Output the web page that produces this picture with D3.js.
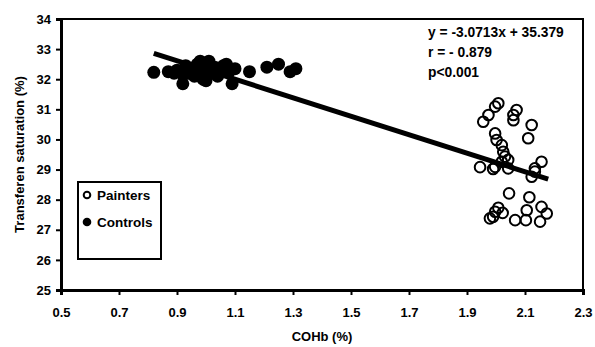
<!DOCTYPE html>
<meta charset="utf-8">
<style>
  body { margin: 0; background: #fff; }
  text { font-family: "Liberation Sans", Arial, sans-serif; font-weight: bold; fill: #000; }
</style>
<body>
<script src="https://d3js.org/d3.v7.min.js"></script>
<script>

// data: [COHb %, transferrin saturation %]
var controls = [
  [0.82, 32.23], [0.87, 32.25], [0.89, 32.2], [0.90, 32.3], [0.92, 31.85],
  [0.92, 32.15], [0.93, 32.45], [0.94, 32.2], [0.95, 32.35], [0.96, 32.1],
  [0.97, 32.5], [0.98, 32.6], [0.98, 32.25], [0.99, 32.0], [1.00, 32.35],
  [1.00, 31.95], [1.01, 32.6], [1.02, 32.2], [1.03, 32.4], [1.04, 32.1],
  [1.05, 32.3], [1.06, 32.45], [1.07, 32.5], [1.08, 32.25], [1.09, 31.85],
  [1.10, 32.35], [1.15, 32.25], [1.21, 32.4], [1.25, 32.5], [1.29, 32.25],
  [1.31, 32.35]
];
var painters = [
  [1.956, 30.59], [1.974, 30.81], [1.997, 31.09], [2.008, 31.2], [2.06, 30.81],
  [2.071, 30.98], [2.06, 30.64], [2.123, 30.48], [2.111, 30.04], [1.997, 30.2],
  [2.002, 29.98], [2.02, 29.81], [2.025, 29.59], [2.031, 29.43], [2.02, 29.26],
  [2.042, 29.32], [2.157, 29.26], [2.134, 29.04], [1.945, 29.08], [1.997, 29.09],
  [1.99, 29.02], [2.042, 29.04], [2.123, 28.76], [2.134, 28.93], [2.045, 28.21],
  [2.115, 28.08], [2.008, 27.73], [1.997, 27.6], [2.023, 27.56], [1.979, 27.38],
  [1.99, 27.43], [2.066, 27.32], [2.103, 27.32], [2.106, 27.65], [2.157, 27.76],
  [2.175, 27.54], [2.152, 27.27]
];
var slope = -3.0713, intercept = 35.379;
var fitRange = [0.82, 2.18];
var xTicks = [0.5, 0.7, 0.9, 1.1, 1.3, 1.5, 1.7, 1.9, 2.1, 2.3];
var yTicks = [25, 26, 27, 28, 29, 30, 31, 32, 33, 34];
var statLines = ["y = -3.0713x + 35.379", "r = - 0.879", "p<0.001"];

var W = 595, H = 347;
var svg = d3.select("body").append("svg").attr("width", W).attr("height", H);

var x = d3.scaleLinear().domain([0.5, 2.3]).range([61, 583]);
var y = d3.scaleLinear().domain([25, 34]).range([290, 19]);

// plot frame
svg.append("rect")
  .attr("x", x(0.5)).attr("y", y(34))
  .attr("width", x(2.3) - x(0.5)).attr("height", y(25) - y(34))
  .attr("fill", "none").attr("stroke", "#000").attr("stroke-width", 2);

// axes
var xAxis = svg.append("g")
  .attr("transform", "translate(0," + y(25) + ")")
  .call(d3.axisBottom(x).tickValues(xTicks).tickSize(5).tickPadding(13)
    .tickFormat(d3.format(".1f")));
var yAxis = svg.append("g")
  .attr("transform", "translate(" + x(0.5) + ",0)")
  .call(d3.axisLeft(y).tickValues(yTicks).tickSize(5).tickPadding(5));

[xAxis, yAxis].forEach(function (g) {
  g.select(".domain").attr("stroke-width", 3);
  g.selectAll(".tick line").attr("stroke-width", 2);
  g.selectAll(".tick text").style("font-size", "13px")
    .style("font-family", "Liberation Sans, Arial, sans-serif").style("font-weight", "bold");
});

svg.append("text")
  .attr("x", (x(0.5) + x(2.3)) / 2).attr("y", 341)
  .attr("text-anchor", "middle").style("font-size", "13px")
  .text("COHb (%)");
svg.append("text")
  .attr("transform", "translate(24," + (y(25) + y(34)) / 2 + ") rotate(-90)")
  .attr("text-anchor", "middle").style("font-size", "13px")
  .text("Transferen saturation (%)");

// points
svg.append("g").selectAll("circle").data(controls).join("circle")
  .attr("cx", function (d) { return x(d[0]); })
  .attr("cy", function (d) { return y(d[1]); })
  .attr("r", 6.5).attr("fill", "#000");

svg.append("g").selectAll("circle").data(painters).join("circle")
  .attr("cx", function (d) { return x(d[0]); })
  .attr("cy", function (d) { return y(d[1]); })
  .attr("r", 5.3).attr("fill", "none").attr("stroke", "#000").attr("stroke-width", 2);

// regression line
svg.append("line")
  .attr("x1", x(fitRange[0])).attr("y1", y(slope * fitRange[0] + intercept))
  .attr("x2", x(fitRange[1])).attr("y2", y(slope * fitRange[1] + intercept))
  .attr("stroke", "#000").attr("stroke-width", 5);

// stats text
svg.append("g").selectAll("text").data(statLines).join("text")
  .attr("x", 428).attr("y", function (d, i) { return 37 + i * 20; })
  .style("font-size", "13.8px")
  .text(function (d) { return d; });

// legend
var leg = svg.append("g");
leg.append("rect").attr("x", 78).attr("y", 182).attr("width", 83).attr("height", 77)
  .attr("fill", "#fff").attr("stroke", "#000").attr("stroke-width", 2);
var legItems = [{ name: "Painters", open: true }, { name: "Controls", open: false }];
legItems.forEach(function (d, i) {
  var cy = 195 + i * 27;
  leg.append("circle").attr("cx", 87).attr("cy", cy).attr("r", d.open ? 3.3 : 4.3)
    .attr("fill", d.open ? "#fff" : "#000").attr("stroke", "#000").attr("stroke-width", d.open ? 2 : 0);
  leg.append("text").attr("x", 97).attr("y", cy + 5).style("font-size", "13.5px").text(d.name);
});
</script>
</body>
